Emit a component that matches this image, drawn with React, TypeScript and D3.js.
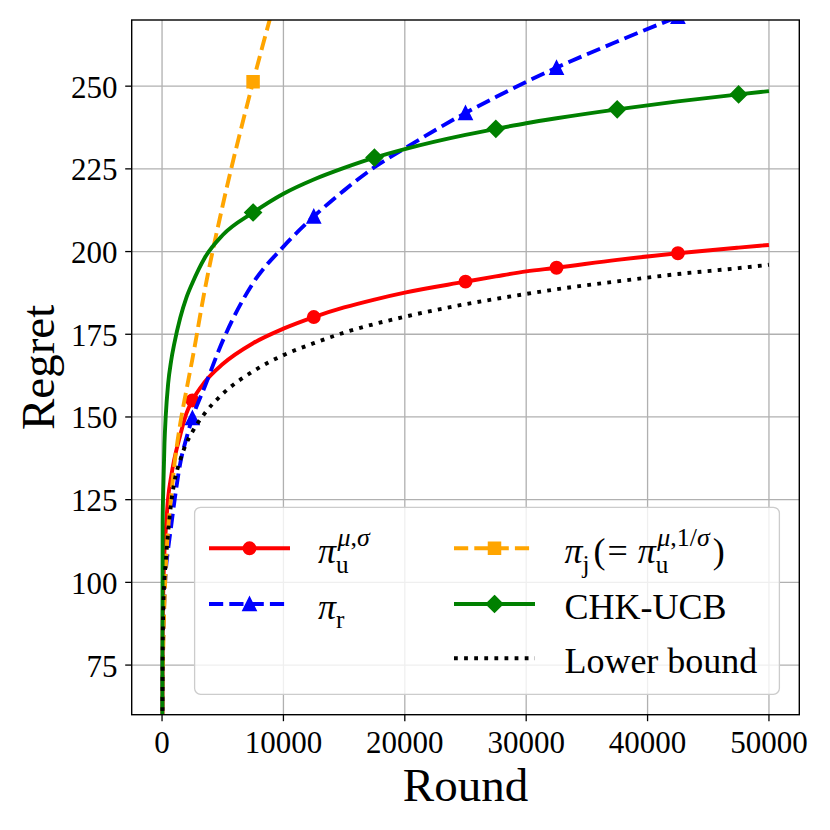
import { useEffect, useRef } from 'react';
import * as d3 from 'd3';

const ROUNDS = [0, 50, 100, 200, 300, 500, 750, 1000, 1500, 2000, 2500, 3500, 5000, 7500, 10000, 12500, 15000, 17500, 20000, 25000, 27500, 30000, 32500, 37500, 42500, 47500, 50000];

const PI_U = [0, 86, 97, 109.5, 115.5, 125.5, 132, 137, 144.5, 151, 155, 160.5, 166, 172.3, 176.7, 180.2, 183.1, 185.5, 187.6, 190.9, 192.5, 194.0, 195.1, 197.5, 199.5, 201.2, 202.0];
const PI_R = [0, 75, 84, 96, 103, 110, 117, 124, 136, 143.5, 149.7, 159, 173, 190.5, 201.5, 210.6, 218.5, 225.5, 231.2, 241.9, 246.7, 251.3, 255.6, 263.5, 271, null, null];
const PI_J = [0, 70, 80, 94, 104, 116, 126, 135, 148, 158, 167.5, 188, 214, 251.3, 285, null, null, null, null, null, null, null, null, null, null, null, null];
const CHK_UCB = [0, 118, 128, 142, 150, 160, 167, 172, 180, 186, 190.5, 198, 205, 211.8, 217.5, 221.8, 225.3, 228.4, 231, 235.3, 237.1, 238.8, 240.3, 243.0, 245.4, 247.5, 248.5];
const LOWER = [0, 78, 92, 101, 106, 115, 124, 130, 137, 142, 145.5, 151, 157, 163.8, 168.7, 172.3, 175.5, 178.1, 180.3, 184.1, 185.7, 187.2, 188.6, 191.0, 193.2, 195.0, 196.0];

const PI_U_MARKS = [2500, 12500, 25000, 32500, 42500];
const PI_R_MARKS = [2500, 12500, 25000, 32500, 42500];
const PI_J_MARKS = [7500, 17500, 27500, 37500, 47500];
const CHK_MARKS = [7500, 17500, 27500, 37500, 47500];

const X_TICKS = [0, 10000, 20000, 30000, 40000, 50000];
const Y_TICKS = [75, 100, 125, 150, 175, 200, 225, 250];

const FONT = "'Liberation Serif', 'DejaVu Serif', serif";

type Seg = [string, boolean];
interface Atom { base: Seg[]; sub?: Seg[]; sup?: Seg[]; padL?: number; padR?: number }

function addSegs(t: any, segs: Seg[]) {
  segs.forEach(([s, it]) => t.append('tspan').attr('font-style', it ? 'italic' : 'normal').text(s));
}

function drawMath(g: any, x: number, y: number, atoms: Atom[], size: number) {
  let cx = x;
  atoms.forEach(a => {
    cx += a.padL ?? 0;
    const b = g.append('text').attr('x', cx).attr('y', y).attr('font-size', size);
    addSegs(b, a.base);
    const w = (b.node() as SVGTextElement).getComputedTextLength();
    let scriptW = 0;
    if (a.sub) {
      const s = g.append('text').attr('x', cx + w).attr('y', y + size * 0.27).attr('font-size', size * 0.7);
      addSegs(s, a.sub);
      scriptW = Math.max(scriptW, (s.node() as SVGTextElement).getComputedTextLength());
    }
    if (a.sup) {
      const s = g.append('text').attr('x', cx + w + 1.5).attr('y', y - size * 0.46).attr('font-size', size * 0.72);
      addSegs(s, a.sup);
      scriptW = Math.max(scriptW, (s.node() as SVGTextElement).getComputedTextLength() + 1.5);
    }
    cx += w + scriptW + (a.padR ?? 0);
  });
}

export default function App() {
  const svgRef = useRef<SVGSVGElement>(null);

  useEffect(() => {
    if (!svgRef.current) return;
    const svg = d3.select(svgRef.current);
    svg.selectAll('*').remove();

    const L = 131.7, R = 799.3, T = 20, B = 714.7;
    const x = d3.scaleLinear().domain([-2500, 52500]).range([L, R]);
    const y = d3.scaleLinear().domain([60, 270]).range([B, T]);

    svg.append('rect').attr('width', 830).attr('height', 830).attr('fill', '#fff');
    svg.append('defs').append('clipPath').attr('id', 'plotClip')
      .append('rect').attr('x', L).attr('y', T).attr('width', R - L).attr('height', B - T);

    // grid
    const grid = svg.append('g').attr('stroke', '#b0b0b0').attr('stroke-width', 1.3);
    X_TICKS.forEach(t => grid.append('line').attr('x1', x(t)).attr('x2', x(t)).attr('y1', T).attr('y2', B));
    Y_TICKS.forEach(t => grid.append('line').attr('x1', L).attr('x2', R).attr('y1', y(t)).attr('y2', y(t)));

    const series = [
      { vals: PI_U, marks: PI_U_MARKS, color: 'red', dash: null, marker: 'o' },
      { vals: PI_R, marks: PI_R_MARKS, color: 'blue', dash: '14.2,6.1', marker: '^' },
      { vals: PI_J, marks: PI_J_MARKS, color: 'orange', dash: '14.2,6.1', marker: 's' },
      { vals: CHK_UCB, marks: CHK_MARKS, color: 'green', dash: null, marker: 'D' },
      { vals: LOWER, marks: [] as number[], color: 'black', dash: '3.8,6.3', marker: '' },
    ];

    const markerPath = (m: string) => {
      if (m === 'o') return d3.symbol(d3.symbolCircle, Math.PI * 36)();
      if (m === '^') return 'M0,-6.3L6.3,6.3L-6.3,6.3Z';
      if (m === 's') return 'M-5.8,-5.8L5.8,-5.8L5.8,5.8L-5.8,5.8Z';
      if (m === 'D') return 'M0,-8L8,0L0,8L-8,0Z';
      return '';
    };

    const plot = svg.append('g').attr('clip-path', 'url(#plotClip)');
    series.forEach(s => {
      const pts = ROUNDS.map((r, i) => [r, s.vals[i]] as [number, number | null]);
      const line = d3.line<[number, number | null]>()
        .defined(d => d[1] != null)
        .x(d => x(d[0]))
        .y(d => y(d[1] as number))
        .curve(d3.curveMonotoneX);
      plot.append('path').attr('d', line(pts))
        .attr('fill', 'none').attr('stroke', s.color).attr('stroke-width', 3.9)
        .attr('stroke-linejoin', 'round')
        .attr('stroke-dasharray', s.dash);
      s.marks.forEach(mr => {
        const i = ROUNDS.indexOf(mr);
        const v = s.vals[i];
        if (v == null) return;
        plot.append('path').attr('d', markerPath(s.marker))
          .attr('transform', `translate(${x(mr)},${y(v)})`)
          .attr('fill', s.color).attr('stroke', s.color).attr('stroke-width', 1.9);
      });
    });

    // spines
    svg.append('rect').attr('x', L).attr('y', T).attr('width', R - L).attr('height', B - T)
      .attr('fill', 'none').attr('stroke', '#000').attr('stroke-width', 1.4);

    // ticks and labels
    const tk = svg.append('g').attr('font-family', FONT).attr('font-size', 31).attr('fill', '#000');
    X_TICKS.forEach(t => {
      tk.append('line').attr('x1', x(t)).attr('x2', x(t)).attr('y1', B).attr('y2', B + 6.5).attr('stroke', '#000').attr('stroke-width', 1.3);
      tk.append('text').attr('x', x(t)).attr('y', 752.7).attr('text-anchor', 'middle').text(t);
    });
    Y_TICKS.forEach(t => {
      tk.append('line').attr('x1', L - 6.5).attr('x2', L).attr('y1', y(t)).attr('y2', y(t)).attr('stroke', '#000').attr('stroke-width', 1.3);
      tk.append('text').attr('x', 117.5).attr('y', y(t) + 11.5).attr('text-anchor', 'end').text(t);
    });

    svg.append('text').attr('x', (L + R) / 2).attr('y', 801).attr('text-anchor', 'middle')
      .attr('font-family', FONT).attr('font-size', 47).text('Round');
    svg.append('text').attr('transform', `translate(53.5,${(T + B) / 2}) rotate(-90)`).attr('text-anchor', 'middle')
      .attr('font-family', FONT).attr('font-size', 47).text('Regret');

    // legend
    const lg = svg.append('g').attr('font-family', FONT).attr('fill', '#000');
    lg.append('rect').attr('x', 194.6).attr('y', 507.3).attr('width', 584.8).attr('height', 187)
      .attr('rx', 6).attr('fill', '#fff').attr('fill-opacity', 0.8)
      .attr('stroke', '#cccccc').attr('stroke-width', 1.3);

    const rows = [548.3, 604, 658.3];
    const entries = [
      { s: series[0], col: 0, row: 0, atoms: [{ base: [['π', true]], sub: [['u', false]], sup: [['μ', true], [',', false], ['σ', true]] }] as Atom[] },
      { s: series[1], col: 0, row: 1, atoms: [{ base: [['π', true]], sub: [['r', false]] }] as Atom[] },
      {
        s: series[2], col: 1, row: 0, atoms: [
          { base: [['π', true]], sub: [['j', false]], padR: 3 },
          { base: [['(', false]], padL: 1 },
          { base: [['=', false]], padL: 2, padR: 10 },
          { base: [['π', true]], sub: [['u', false]], sup: [['μ', true], [',', false], ['1/', false], ['σ', true]] },
          { base: [[')', false]], padL: 3 },
        ] as Atom[],
      },
      { s: series[3], col: 1, row: 1, atoms: [{ base: [['CHK-UCB', false]] }] as Atom[] },
      { s: series[4], col: 1, row: 2, atoms: [{ base: [['Lower bound', false]] }] as Atom[] },
    ];
    const cols = [{ x1: 209, x2: 290, tx: 318 }, { x1: 454, x2: 535, tx: 564.4 }];
    entries.forEach(e => {
      const c = cols[e.col];
      const ry = rows[e.row];
      lg.append('line').attr('x1', c.x1).attr('x2', c.x2).attr('y1', ry).attr('y2', ry)
        .attr('stroke', e.s.color).attr('stroke-width', 3.9).attr('stroke-dasharray', e.s.dash);
      if (e.s.marker) {
        lg.append('path').attr('d', markerPath(e.s.marker))
          .attr('transform', `translate(${(c.x1 + c.x2) / 2},${ry})`)
          .attr('fill', e.s.color).attr('stroke', e.s.color).attr('stroke-width', 1.9);
      }
      drawMath(lg, c.tx, ry + 14.5, e.atoms, 36);
    });
  }, []);

  return <svg ref={svgRef} width={830} height={830} viewBox="0 0 830 830"
    style={{ position: 'absolute', left: 0, top: 0, display: 'block' }} />;
}
